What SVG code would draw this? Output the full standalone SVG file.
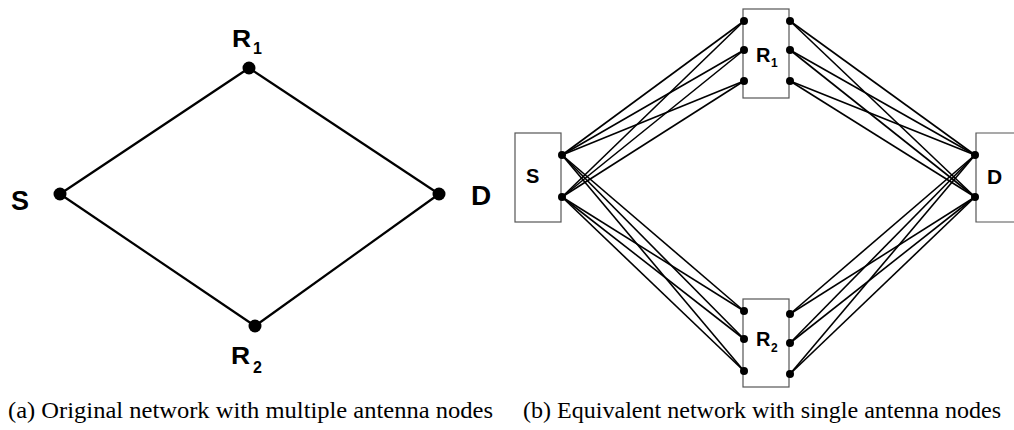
<svg xmlns="http://www.w3.org/2000/svg" width="1014" height="430" viewBox="0 0 1014 430">
<style>
.lbl{font-family:"Liberation Sans",Arial,sans-serif;font-weight:bold;fill:#000}
.cap{font-family:"Liberation Serif","Times New Roman",serif;font-size:24px;fill:#000}
.e1{stroke:#000;stroke-width:2.2;fill:none}
.e2{stroke:#000;stroke-width:1.6;fill:none}
.box{fill:#fff;stroke:#555;stroke-width:1.2}
.dot{fill:#000}
</style>
<rect width="1014" height="430" fill="#fff"/>
<g id="connectors-a">
<line class="e1" x1="60" y1="194" x2="249" y2="68"/>
<line class="e1" x1="60" y1="194" x2="255" y2="326"/>
<line class="e1" x1="249" y1="68" x2="439" y2="194"/>
<line class="e1" x1="255" y1="326" x2="439" y2="194"/>
</g>
<g id="a-S"><circle class="dot" cx="60" cy="194" r="6.5"/><text class="lbl" x="11" y="210" font-size="27">S</text></g>
<g id="a-R1"><circle class="dot" cx="249" cy="68" r="6.5"/><text class="lbl" transform="translate(232,47) scale(1.15,1)" font-size="23">R</text><text class="lbl" x="253" y="54" font-size="16">1</text></g>
<g id="a-D"><circle class="dot" cx="439" cy="194" r="6.5"/><text class="lbl" x="471" y="205" font-size="28">D</text></g>
<g id="a-R2"><circle class="dot" cx="255" cy="326" r="6.5"/><text class="lbl" transform="translate(231,364) scale(1.15,1)" font-size="23">R</text><text class="lbl" x="253" y="373" font-size="16">2</text></g>

<g id="b-S"><rect class="box" x="515" y="133" width="46" height="89"/><text class="lbl" x="526" y="183" font-size="20">S</text></g>
<g id="b-R1"><rect class="box" x="743" y="9" width="46" height="89"/><text class="lbl" x="756" y="62" font-size="20">R</text><text class="lbl" x="771" y="67" font-size="12">1</text></g>
<g id="b-R2"><rect class="box" x="743" y="299" width="46" height="88"/><text class="lbl" x="756" y="346" font-size="20">R</text><text class="lbl" x="771" y="352" font-size="12">2</text></g>
<g id="b-D"><path class="box" d="M1016,133 H976 V222 H1016"/><text class="lbl" x="987" y="184" font-size="21">D</text></g>

<g id="connectors-b">
<line class="e2" x1="562" y1="155" x2="744" y2="21"/>
<line class="e2" x1="562" y1="155" x2="744" y2="50"/>
<line class="e2" x1="562" y1="155" x2="744" y2="81"/>
<line class="e2" x1="562" y1="197" x2="744" y2="21"/>
<line class="e2" x1="562" y1="197" x2="744" y2="50"/>
<line class="e2" x1="562" y1="197" x2="744" y2="81"/>
<line class="e2" x1="562" y1="155" x2="744" y2="311"/>
<line class="e2" x1="562" y1="155" x2="744" y2="339"/>
<line class="e2" x1="562" y1="155" x2="744" y2="371"/>
<line class="e2" x1="562" y1="197" x2="744" y2="311"/>
<line class="e2" x1="562" y1="197" x2="744" y2="339"/>
<line class="e2" x1="562" y1="197" x2="744" y2="371"/>
<line class="e2" x1="790" y1="21" x2="975" y2="155"/>
<line class="e2" x1="790" y1="50" x2="975" y2="155"/>
<line class="e2" x1="790" y1="81" x2="975" y2="155"/>
<line class="e2" x1="790" y1="21" x2="975" y2="197"/>
<line class="e2" x1="790" y1="50" x2="975" y2="197"/>
<line class="e2" x1="790" y1="81" x2="975" y2="197"/>
<line class="e2" x1="790" y1="314" x2="975" y2="155"/>
<line class="e2" x1="790" y1="343" x2="975" y2="155"/>
<line class="e2" x1="790" y1="374" x2="975" y2="155"/>
<line class="e2" x1="790" y1="314" x2="975" y2="197"/>
<line class="e2" x1="790" y1="343" x2="975" y2="197"/>
<line class="e2" x1="790" y1="374" x2="975" y2="197"/>
</g>
<g id="antennas">
<circle class="dot" cx="562" cy="155" r="4"/><circle class="dot" cx="562" cy="197" r="4"/>
<circle class="dot" cx="744" cy="21" r="4"/><circle class="dot" cx="744" cy="50" r="4"/><circle class="dot" cx="744" cy="81" r="4"/>
<circle class="dot" cx="790" cy="21" r="4"/><circle class="dot" cx="790" cy="50" r="4"/><circle class="dot" cx="790" cy="81" r="4"/>
<circle class="dot" cx="744" cy="311" r="4"/><circle class="dot" cx="744" cy="339" r="4"/><circle class="dot" cx="744" cy="371" r="4"/>
<circle class="dot" cx="790" cy="314" r="4"/><circle class="dot" cx="790" cy="343" r="4"/><circle class="dot" cx="790" cy="374" r="4"/>
<circle class="dot" cx="975" cy="155" r="4"/><circle class="dot" cx="975" cy="197" r="4"/>
</g>
<text class="cap" x="8" y="418" textLength="485" lengthAdjust="spacingAndGlyphs">(a) Original network with multiple antenna nodes</text>
<text class="cap" x="523" y="418" textLength="478" lengthAdjust="spacingAndGlyphs">(b) Equivalent network with single antenna nodes</text>
</svg>
